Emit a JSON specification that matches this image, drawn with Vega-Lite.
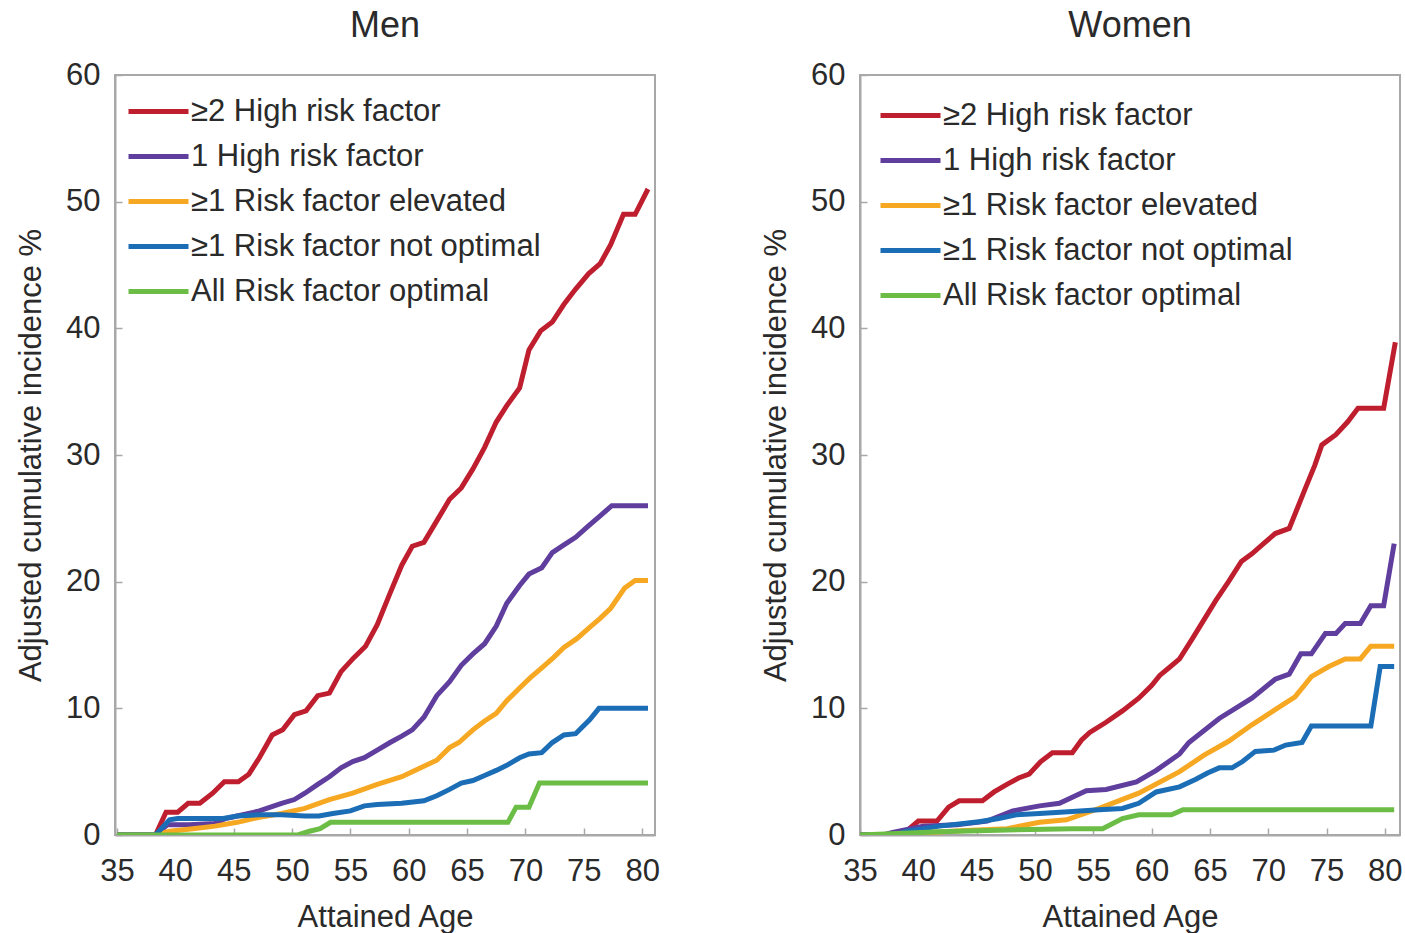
{
  "$schema": "https://vega.github.io/schema/vega-lite/v6.json",
  "background": "white",
  "padding": {"left": 14, "top": 7, "right": 0, "bottom": 0},
  "spacing": 98,
  "config": {
    "font": "Liberation Sans",
    "view": {"stroke": "#a8a8a8", "strokeWidth": 2},
    "axis": {
      "labelFont": "Liberation Sans", "labelFontSize": 31, "labelColor": "#2a2a2a",
      "titleFont": "Liberation Sans", "titleFontSize": 31, "titleFontWeight": "normal", "titleColor": "#2a2a2a",
      "domainColor": "#a8a8a8", "domainWidth": 2, "tickColor": "#a8a8a8", "tickWidth": 1.5, "tickSize": -7, "grid": false
    },
    "axisX": {"labelPadding": 28, "titlePadding": 16, "labelFlush": false},
    "axisY": {"labelPadding": 22, "titlePadding": 18},
    "legend": {
      "orient": "none", "title": null, "padding": 0,
      "labelFont": "Liberation Sans", "labelFontSize": 31, "labelColor": "#2a2a2a", "labelLimit": 0,
      "symbolType": "M-3,0L3,0", "symbolSize": 400, "symbolStrokeWidth": 5,
      "labelOffset": 17, "rowPadding": 13
    },
    "title": {"font": "Liberation Sans", "fontSize": 36, "fontWeight": "normal", "color": "#2a2a2a"}
  },
  "datasets": {
    "men": [
      {"g": "≥2 High risk factor", "a": 35, "v": 0},
      {"g": "≥2 High risk factor", "a": 38.3, "v": 0},
      {"g": "≥2 High risk factor", "a": 39.2, "v": 1.8},
      {"g": "≥2 High risk factor", "a": 40.2, "v": 1.8},
      {"g": "≥2 High risk factor", "a": 41.1, "v": 2.5},
      {"g": "≥2 High risk factor", "a": 42.1, "v": 2.5},
      {"g": "≥2 High risk factor", "a": 43.2, "v": 3.3},
      {"g": "≥2 High risk factor", "a": 44.2, "v": 4.2},
      {"g": "≥2 High risk factor", "a": 45.4, "v": 4.2},
      {"g": "≥2 High risk factor", "a": 46.3, "v": 4.8},
      {"g": "≥2 High risk factor", "a": 47.2, "v": 6.1},
      {"g": "≥2 High risk factor", "a": 48.3, "v": 7.9},
      {"g": "≥2 High risk factor", "a": 49.2, "v": 8.3},
      {"g": "≥2 High risk factor", "a": 50.2, "v": 9.5},
      {"g": "≥2 High risk factor", "a": 51.2, "v": 9.8},
      {"g": "≥2 High risk factor", "a": 52.2, "v": 11.0},
      {"g": "≥2 High risk factor", "a": 53.2, "v": 11.2},
      {"g": "≥2 High risk factor", "a": 54.2, "v": 12.9},
      {"g": "≥2 High risk factor", "a": 55.3, "v": 14.0},
      {"g": "≥2 High risk factor", "a": 56.3, "v": 14.9},
      {"g": "≥2 High risk factor", "a": 57.3, "v": 16.6},
      {"g": "≥2 High risk factor", "a": 58.4, "v": 19.1},
      {"g": "≥2 High risk factor", "a": 59.4, "v": 21.3},
      {"g": "≥2 High risk factor", "a": 60.3, "v": 22.8},
      {"g": "≥2 High risk factor", "a": 61.3, "v": 23.1},
      {"g": "≥2 High risk factor", "a": 62.4, "v": 24.8},
      {"g": "≥2 High risk factor", "a": 63.5, "v": 26.5},
      {"g": "≥2 High risk factor", "a": 64.5, "v": 27.4},
      {"g": "≥2 High risk factor", "a": 65.5, "v": 28.9},
      {"g": "≥2 High risk factor", "a": 66.5, "v": 30.6},
      {"g": "≥2 High risk factor", "a": 67.5, "v": 32.6},
      {"g": "≥2 High risk factor", "a": 68.4, "v": 33.9},
      {"g": "≥2 High risk factor", "a": 69.5, "v": 35.3},
      {"g": "≥2 High risk factor", "a": 70.3, "v": 38.3},
      {"g": "≥2 High risk factor", "a": 71.3, "v": 39.8},
      {"g": "≥2 High risk factor", "a": 72.3, "v": 40.5},
      {"g": "≥2 High risk factor", "a": 73.3, "v": 41.9},
      {"g": "≥2 High risk factor", "a": 74.3, "v": 43.1},
      {"g": "≥2 High risk factor", "a": 75.4, "v": 44.3},
      {"g": "≥2 High risk factor", "a": 76.4, "v": 45.1},
      {"g": "≥2 High risk factor", "a": 77.3, "v": 46.6},
      {"g": "≥2 High risk factor", "a": 78.4, "v": 49.0},
      {"g": "≥2 High risk factor", "a": 79.4, "v": 49.0},
      {"g": "≥2 High risk factor", "a": 80.5, "v": 51.0},
      {"g": "1 High risk factor", "a": 35, "v": 0},
      {"g": "1 High risk factor", "a": 38.3, "v": 0},
      {"g": "1 High risk factor", "a": 39.3, "v": 0.8},
      {"g": "1 High risk factor", "a": 41.2, "v": 0.8},
      {"g": "1 High risk factor", "a": 43.4, "v": 0.9},
      {"g": "1 High risk factor", "a": 44.3, "v": 1.3},
      {"g": "1 High risk factor", "a": 45.3, "v": 1.5},
      {"g": "1 High risk factor", "a": 47.2, "v": 1.9},
      {"g": "1 High risk factor", "a": 49.1, "v": 2.5},
      {"g": "1 High risk factor", "a": 50.2, "v": 2.8},
      {"g": "1 High risk factor", "a": 51.1, "v": 3.3},
      {"g": "1 High risk factor", "a": 52.2, "v": 4.0},
      {"g": "1 High risk factor", "a": 53.2, "v": 4.6},
      {"g": "1 High risk factor", "a": 54.2, "v": 5.3},
      {"g": "1 High risk factor", "a": 55.2, "v": 5.8},
      {"g": "1 High risk factor", "a": 56.2, "v": 6.1},
      {"g": "1 High risk factor", "a": 57.3, "v": 6.7},
      {"g": "1 High risk factor", "a": 58.4, "v": 7.3},
      {"g": "1 High risk factor", "a": 59.4, "v": 7.8},
      {"g": "1 High risk factor", "a": 60.3, "v": 8.3},
      {"g": "1 High risk factor", "a": 61.3, "v": 9.3},
      {"g": "1 High risk factor", "a": 62.4, "v": 11.0},
      {"g": "1 High risk factor", "a": 63.5, "v": 12.1},
      {"g": "1 High risk factor", "a": 64.5, "v": 13.4},
      {"g": "1 High risk factor", "a": 65.5, "v": 14.3},
      {"g": "1 High risk factor", "a": 66.5, "v": 15.1},
      {"g": "1 High risk factor", "a": 67.5, "v": 16.5},
      {"g": "1 High risk factor", "a": 68.4, "v": 18.3},
      {"g": "1 High risk factor", "a": 69.5, "v": 19.7},
      {"g": "1 High risk factor", "a": 70.3, "v": 20.6},
      {"g": "1 High risk factor", "a": 71.4, "v": 21.1},
      {"g": "1 High risk factor", "a": 72.3, "v": 22.3},
      {"g": "1 High risk factor", "a": 73.3, "v": 22.9},
      {"g": "1 High risk factor", "a": 74.3, "v": 23.5},
      {"g": "1 High risk factor", "a": 75.4, "v": 24.4},
      {"g": "1 High risk factor", "a": 76.4, "v": 25.2},
      {"g": "1 High risk factor", "a": 77.4, "v": 26.0},
      {"g": "1 High risk factor", "a": 78.5, "v": 26.0},
      {"g": "1 High risk factor", "a": 80.5, "v": 26.0},
      {"g": "≥1 Risk factor elevated", "a": 35, "v": 0},
      {"g": "≥1 Risk factor elevated", "a": 38.3, "v": 0},
      {"g": "≥1 Risk factor elevated", "a": 39.5, "v": 0.3},
      {"g": "≥1 Risk factor elevated", "a": 41.5, "v": 0.5},
      {"g": "≥1 Risk factor elevated", "a": 43.4, "v": 0.7},
      {"g": "≥1 Risk factor elevated", "a": 45.3, "v": 1.0},
      {"g": "≥1 Risk factor elevated", "a": 47.2, "v": 1.4},
      {"g": "≥1 Risk factor elevated", "a": 49.1, "v": 1.7},
      {"g": "≥1 Risk factor elevated", "a": 51.1, "v": 2.1},
      {"g": "≥1 Risk factor elevated", "a": 53.2, "v": 2.8},
      {"g": "≥1 Risk factor elevated", "a": 55.2, "v": 3.3},
      {"g": "≥1 Risk factor elevated", "a": 57.3, "v": 4.0},
      {"g": "≥1 Risk factor elevated", "a": 59.4, "v": 4.6},
      {"g": "≥1 Risk factor elevated", "a": 60.3, "v": 5.0},
      {"g": "≥1 Risk factor elevated", "a": 62.4, "v": 5.9},
      {"g": "≥1 Risk factor elevated", "a": 63.5, "v": 6.9},
      {"g": "≥1 Risk factor elevated", "a": 64.3, "v": 7.3},
      {"g": "≥1 Risk factor elevated", "a": 65.5, "v": 8.3},
      {"g": "≥1 Risk factor elevated", "a": 66.5, "v": 9.0},
      {"g": "≥1 Risk factor elevated", "a": 67.5, "v": 9.6},
      {"g": "≥1 Risk factor elevated", "a": 68.4, "v": 10.6},
      {"g": "≥1 Risk factor elevated", "a": 69.5, "v": 11.6},
      {"g": "≥1 Risk factor elevated", "a": 70.4, "v": 12.4},
      {"g": "≥1 Risk factor elevated", "a": 71.4, "v": 13.2},
      {"g": "≥1 Risk factor elevated", "a": 72.4, "v": 14.0},
      {"g": "≥1 Risk factor elevated", "a": 73.3, "v": 14.8},
      {"g": "≥1 Risk factor elevated", "a": 74.4, "v": 15.5},
      {"g": "≥1 Risk factor elevated", "a": 75.5, "v": 16.4},
      {"g": "≥1 Risk factor elevated", "a": 76.4, "v": 17.1},
      {"g": "≥1 Risk factor elevated", "a": 77.3, "v": 17.9},
      {"g": "≥1 Risk factor elevated", "a": 78.5, "v": 19.5},
      {"g": "≥1 Risk factor elevated", "a": 79.4, "v": 20.1},
      {"g": "≥1 Risk factor elevated", "a": 80.5, "v": 20.1},
      {"g": "≥1 Risk factor not optimal", "a": 35, "v": 0},
      {"g": "≥1 Risk factor not optimal", "a": 38.3, "v": 0},
      {"g": "≥1 Risk factor not optimal", "a": 39.5, "v": 1.2},
      {"g": "≥1 Risk factor not optimal", "a": 40.2, "v": 1.3},
      {"g": "≥1 Risk factor not optimal", "a": 44.1, "v": 1.3},
      {"g": "≥1 Risk factor not optimal", "a": 45.3, "v": 1.5},
      {"g": "≥1 Risk factor not optimal", "a": 47.2, "v": 1.6},
      {"g": "≥1 Risk factor not optimal", "a": 49.1, "v": 1.6},
      {"g": "≥1 Risk factor not optimal", "a": 51.1, "v": 1.5},
      {"g": "≥1 Risk factor not optimal", "a": 52.3, "v": 1.5},
      {"g": "≥1 Risk factor not optimal", "a": 53.5, "v": 1.7},
      {"g": "≥1 Risk factor not optimal", "a": 55.0, "v": 1.9},
      {"g": "≥1 Risk factor not optimal", "a": 56.2, "v": 2.3},
      {"g": "≥1 Risk factor not optimal", "a": 57.3, "v": 2.4},
      {"g": "≥1 Risk factor not optimal", "a": 59.4, "v": 2.5},
      {"g": "≥1 Risk factor not optimal", "a": 61.3, "v": 2.7},
      {"g": "≥1 Risk factor not optimal", "a": 62.4, "v": 3.1},
      {"g": "≥1 Risk factor not optimal", "a": 63.5, "v": 3.6},
      {"g": "≥1 Risk factor not optimal", "a": 64.5, "v": 4.1},
      {"g": "≥1 Risk factor not optimal", "a": 65.5, "v": 4.3},
      {"g": "≥1 Risk factor not optimal", "a": 66.5, "v": 4.7},
      {"g": "≥1 Risk factor not optimal", "a": 67.5, "v": 5.1},
      {"g": "≥1 Risk factor not optimal", "a": 68.4, "v": 5.5},
      {"g": "≥1 Risk factor not optimal", "a": 69.5, "v": 6.1},
      {"g": "≥1 Risk factor not optimal", "a": 70.3, "v": 6.4},
      {"g": "≥1 Risk factor not optimal", "a": 71.4, "v": 6.5},
      {"g": "≥1 Risk factor not optimal", "a": 72.3, "v": 7.3},
      {"g": "≥1 Risk factor not optimal", "a": 73.3, "v": 7.9},
      {"g": "≥1 Risk factor not optimal", "a": 74.3, "v": 8.0},
      {"g": "≥1 Risk factor not optimal", "a": 75.5, "v": 9.1},
      {"g": "≥1 Risk factor not optimal", "a": 76.3, "v": 10.0},
      {"g": "≥1 Risk factor not optimal", "a": 78.5, "v": 10.0},
      {"g": "≥1 Risk factor not optimal", "a": 80.5, "v": 10.0},
      {"g": "All Risk factor optimal", "a": 35, "v": 0},
      {"g": "All Risk factor optimal", "a": 50.5, "v": 0},
      {"g": "All Risk factor optimal", "a": 51.5, "v": 0.3},
      {"g": "All Risk factor optimal", "a": 52.4, "v": 0.5},
      {"g": "All Risk factor optimal", "a": 53.3, "v": 1.0},
      {"g": "All Risk factor optimal", "a": 55.2, "v": 1.0},
      {"g": "All Risk factor optimal", "a": 68.5, "v": 1.0},
      {"g": "All Risk factor optimal", "a": 69.2, "v": 2.2},
      {"g": "All Risk factor optimal", "a": 70.3, "v": 2.2},
      {"g": "All Risk factor optimal", "a": 71.2, "v": 4.1},
      {"g": "All Risk factor optimal", "a": 80.5, "v": 4.1}
    ],
    "women": [
      {"g": "≥2 High risk factor", "a": 35, "v": 0},
      {"g": "≥2 High risk factor", "a": 38.6, "v": 0},
      {"g": "≥2 High risk factor", "a": 40.0, "v": 1.1},
      {"g": "≥2 High risk factor", "a": 41.6, "v": 1.1},
      {"g": "≥2 High risk factor", "a": 42.6, "v": 2.2},
      {"g": "≥2 High risk factor", "a": 43.5, "v": 2.7},
      {"g": "≥2 High risk factor", "a": 45.5, "v": 2.7},
      {"g": "≥2 High risk factor", "a": 46.5, "v": 3.4},
      {"g": "≥2 High risk factor", "a": 47.6, "v": 4.0},
      {"g": "≥2 High risk factor", "a": 48.6, "v": 4.5},
      {"g": "≥2 High risk factor", "a": 49.5, "v": 4.8},
      {"g": "≥2 High risk factor", "a": 50.5, "v": 5.8},
      {"g": "≥2 High risk factor", "a": 51.5, "v": 6.5},
      {"g": "≥2 High risk factor", "a": 53.2, "v": 6.5},
      {"g": "≥2 High risk factor", "a": 54.0, "v": 7.5},
      {"g": "≥2 High risk factor", "a": 54.7, "v": 8.1},
      {"g": "≥2 High risk factor", "a": 56.1, "v": 8.9},
      {"g": "≥2 High risk factor", "a": 57.5, "v": 9.8},
      {"g": "≥2 High risk factor", "a": 58.9, "v": 10.8},
      {"g": "≥2 High risk factor", "a": 60.0, "v": 11.8},
      {"g": "≥2 High risk factor", "a": 60.7, "v": 12.6},
      {"g": "≥2 High risk factor", "a": 61.5, "v": 13.2},
      {"g": "≥2 High risk factor", "a": 62.4, "v": 13.9},
      {"g": "≥2 High risk factor", "a": 63.5, "v": 15.5},
      {"g": "≥2 High risk factor", "a": 64.5, "v": 17.0},
      {"g": "≥2 High risk factor", "a": 65.5, "v": 18.5},
      {"g": "≥2 High risk factor", "a": 66.6, "v": 20.0},
      {"g": "≥2 High risk factor", "a": 67.7, "v": 21.6},
      {"g": "≥2 High risk factor", "a": 68.6, "v": 22.2},
      {"g": "≥2 High risk factor", "a": 69.6, "v": 23.0},
      {"g": "≥2 High risk factor", "a": 70.6, "v": 23.8},
      {"g": "≥2 High risk factor", "a": 71.8, "v": 24.2},
      {"g": "≥2 High risk factor", "a": 72.5, "v": 25.8},
      {"g": "≥2 High risk factor", "a": 73.2, "v": 27.4},
      {"g": "≥2 High risk factor", "a": 74.0, "v": 29.2},
      {"g": "≥2 High risk factor", "a": 74.6, "v": 30.8},
      {"g": "≥2 High risk factor", "a": 75.8, "v": 31.6},
      {"g": "≥2 High risk factor", "a": 76.8, "v": 32.6},
      {"g": "≥2 High risk factor", "a": 77.7, "v": 33.7},
      {"g": "≥2 High risk factor", "a": 79.9, "v": 33.7},
      {"g": "≥2 High risk factor", "a": 80.9, "v": 38.9},
      {"g": "1 High risk factor", "a": 35, "v": 0},
      {"g": "1 High risk factor", "a": 37.0, "v": 0},
      {"g": "1 High risk factor", "a": 37.8, "v": 0.2},
      {"g": "1 High risk factor", "a": 40.4, "v": 0.7},
      {"g": "1 High risk factor", "a": 43.3, "v": 0.8},
      {"g": "1 High risk factor", "a": 45.9, "v": 1.1},
      {"g": "1 High risk factor", "a": 48.1, "v": 1.9},
      {"g": "1 High risk factor", "a": 50.4, "v": 2.3},
      {"g": "1 High risk factor", "a": 52.1, "v": 2.5},
      {"g": "1 High risk factor", "a": 54.4, "v": 3.5},
      {"g": "1 High risk factor", "a": 56.1, "v": 3.6},
      {"g": "1 High risk factor", "a": 58.7, "v": 4.2},
      {"g": "1 High risk factor", "a": 60.4, "v": 5.1},
      {"g": "1 High risk factor", "a": 62.4, "v": 6.4},
      {"g": "1 High risk factor", "a": 63.2, "v": 7.3},
      {"g": "1 High risk factor", "a": 65.8, "v": 9.2},
      {"g": "1 High risk factor", "a": 68.6, "v": 10.8},
      {"g": "1 High risk factor", "a": 70.6, "v": 12.3},
      {"g": "1 High risk factor", "a": 71.8, "v": 12.7},
      {"g": "1 High risk factor", "a": 72.8, "v": 14.3},
      {"g": "1 High risk factor", "a": 73.7, "v": 14.3},
      {"g": "1 High risk factor", "a": 74.9, "v": 15.9},
      {"g": "1 High risk factor", "a": 75.8, "v": 15.9},
      {"g": "1 High risk factor", "a": 76.6, "v": 16.7},
      {"g": "1 High risk factor", "a": 77.9, "v": 16.7},
      {"g": "1 High risk factor", "a": 78.8, "v": 18.1},
      {"g": "1 High risk factor", "a": 79.9, "v": 18.1},
      {"g": "1 High risk factor", "a": 80.8, "v": 23.0},
      {"g": "≥1 Risk factor elevated", "a": 35, "v": 0},
      {"g": "≥1 Risk factor elevated", "a": 38.5, "v": 0},
      {"g": "≥1 Risk factor elevated", "a": 41.0, "v": 0.2},
      {"g": "≥1 Risk factor elevated", "a": 44.0, "v": 0.35},
      {"g": "≥1 Risk factor elevated", "a": 47.6, "v": 0.5},
      {"g": "≥1 Risk factor elevated", "a": 50.4, "v": 1.0},
      {"g": "≥1 Risk factor elevated", "a": 52.7, "v": 1.2},
      {"g": "≥1 Risk factor elevated", "a": 55.5, "v": 2.1},
      {"g": "≥1 Risk factor elevated", "a": 58.9, "v": 3.3},
      {"g": "≥1 Risk factor elevated", "a": 62.4, "v": 5.0},
      {"g": "≥1 Risk factor elevated", "a": 64.5, "v": 6.3},
      {"g": "≥1 Risk factor elevated", "a": 66.6, "v": 7.4},
      {"g": "≥1 Risk factor elevated", "a": 68.6, "v": 8.7},
      {"g": "≥1 Risk factor elevated", "a": 70.6, "v": 9.9},
      {"g": "≥1 Risk factor elevated", "a": 72.3, "v": 10.9},
      {"g": "≥1 Risk factor elevated", "a": 73.7, "v": 12.5},
      {"g": "≥1 Risk factor elevated", "a": 75.2, "v": 13.3},
      {"g": "≥1 Risk factor elevated", "a": 76.6, "v": 13.9},
      {"g": "≥1 Risk factor elevated", "a": 77.9, "v": 13.9},
      {"g": "≥1 Risk factor elevated", "a": 78.8, "v": 14.9},
      {"g": "≥1 Risk factor elevated", "a": 80.8, "v": 14.9},
      {"g": "≥1 Risk factor not optimal", "a": 35, "v": 0},
      {"g": "≥1 Risk factor not optimal", "a": 38.0, "v": 0},
      {"g": "≥1 Risk factor not optimal", "a": 39.0, "v": 0.3},
      {"g": "≥1 Risk factor not optimal", "a": 41.8, "v": 0.7},
      {"g": "≥1 Risk factor not optimal", "a": 45.2, "v": 1.05},
      {"g": "≥1 Risk factor not optimal", "a": 46.9, "v": 1.3},
      {"g": "≥1 Risk factor not optimal", "a": 48.4, "v": 1.6},
      {"g": "≥1 Risk factor not optimal", "a": 50.4, "v": 1.7},
      {"g": "≥1 Risk factor not optimal", "a": 53.2, "v": 1.85},
      {"g": "≥1 Risk factor not optimal", "a": 55.5, "v": 2.0},
      {"g": "≥1 Risk factor not optimal", "a": 57.5, "v": 2.1},
      {"g": "≥1 Risk factor not optimal", "a": 58.9, "v": 2.5},
      {"g": "≥1 Risk factor not optimal", "a": 60.4, "v": 3.4},
      {"g": "≥1 Risk factor not optimal", "a": 62.4, "v": 3.8},
      {"g": "≥1 Risk factor not optimal", "a": 63.8, "v": 4.4},
      {"g": "≥1 Risk factor not optimal", "a": 64.8, "v": 4.9},
      {"g": "≥1 Risk factor not optimal", "a": 65.8, "v": 5.3},
      {"g": "≥1 Risk factor not optimal", "a": 66.9, "v": 5.3},
      {"g": "≥1 Risk factor not optimal", "a": 67.8, "v": 5.8},
      {"g": "≥1 Risk factor not optimal", "a": 68.9, "v": 6.6},
      {"g": "≥1 Risk factor not optimal", "a": 70.5, "v": 6.7},
      {"g": "≥1 Risk factor not optimal", "a": 71.5, "v": 7.1},
      {"g": "≥1 Risk factor not optimal", "a": 72.9, "v": 7.3},
      {"g": "≥1 Risk factor not optimal", "a": 73.7, "v": 8.6},
      {"g": "≥1 Risk factor not optimal", "a": 78.8, "v": 8.6},
      {"g": "≥1 Risk factor not optimal", "a": 79.6, "v": 13.3},
      {"g": "≥1 Risk factor not optimal", "a": 80.8, "v": 13.3},
      {"g": "All Risk factor optimal", "a": 35, "v": 0},
      {"g": "All Risk factor optimal", "a": 41.8, "v": 0.25},
      {"g": "All Risk factor optimal", "a": 47.6, "v": 0.4},
      {"g": "All Risk factor optimal", "a": 53.2, "v": 0.5},
      {"g": "All Risk factor optimal", "a": 55.8, "v": 0.5},
      {"g": "All Risk factor optimal", "a": 57.5, "v": 1.3},
      {"g": "All Risk factor optimal", "a": 58.9, "v": 1.6},
      {"g": "All Risk factor optimal", "a": 61.7, "v": 1.6},
      {"g": "All Risk factor optimal", "a": 62.7, "v": 2.0},
      {"g": "All Risk factor optimal", "a": 80.8, "v": 2.0}
    ]
  },
  "resolve": {"scale": {"color": "independent"}, "legend": {"color": "independent"}},
  "hconcat": [
    {
      "title": {"text": "Men", "offset": 14},
      "width": 540, "height": 760,
      "data": {"name": "men"},
      "mark": {"type": "line", "strokeWidth": 5, "clip": true},
      "encoding": {
        "x": {"field": "a", "type": "quantitative", "scale": {"domain": [34.83, 81.1], "nice": false, "zero": false},
              "axis": {"values": [35, 40, 45, 50, 55, 60, 65, 70, 75, 80], "title": "Attained Age"}},
        "y": {"field": "v", "type": "quantitative", "scale": {"domain": [0, 60], "nice": false},
              "axis": {"values": [0, 10, 20, 30, 40, 50, 60], "title": "Adjusted cumulative incidence %"}},
        "color": {"field": "g", "type": "nominal",
                  "scale": {"domain": ["≥2 High risk factor", "1 High risk factor", "≥1 Risk factor elevated", "≥1 Risk factor not optimal", "All Risk factor optimal"],
                            "range": ["#BE1E2D", "#5F3E9E", "#F7A823", "#1B6DB5", "#6CBD45"]},
                  "legend": {"legendX": 28, "legendY": 21}}
      }
    },
    {
      "title": {"text": "Women", "offset": 14},
      "width": 540, "height": 760,
      "data": {"name": "women"},
      "mark": {"type": "line", "strokeWidth": 5, "clip": true},
      "encoding": {
        "x": {"field": "a", "type": "quantitative", "scale": {"domain": [35.0, 81.3], "nice": false, "zero": false},
              "axis": {"values": [35, 40, 45, 50, 55, 60, 65, 70, 75, 80], "title": "Attained Age"}},
        "y": {"field": "v", "type": "quantitative", "scale": {"domain": [0, 60], "nice": false},
              "axis": {"values": [0, 10, 20, 30, 40, 50, 60], "title": "Adjusted cumulative incidence %"}},
        "color": {"field": "g", "type": "nominal",
                  "scale": {"domain": ["≥2 High risk factor", "1 High risk factor", "≥1 Risk factor elevated", "≥1 Risk factor not optimal", "All Risk factor optimal"],
                            "range": ["#BE1E2D", "#5F3E9E", "#F7A823", "#1B6DB5", "#6CBD45"]},
                  "legend": {"legendX": 35, "legendY": 25}}
      }
    }
  ]
}
